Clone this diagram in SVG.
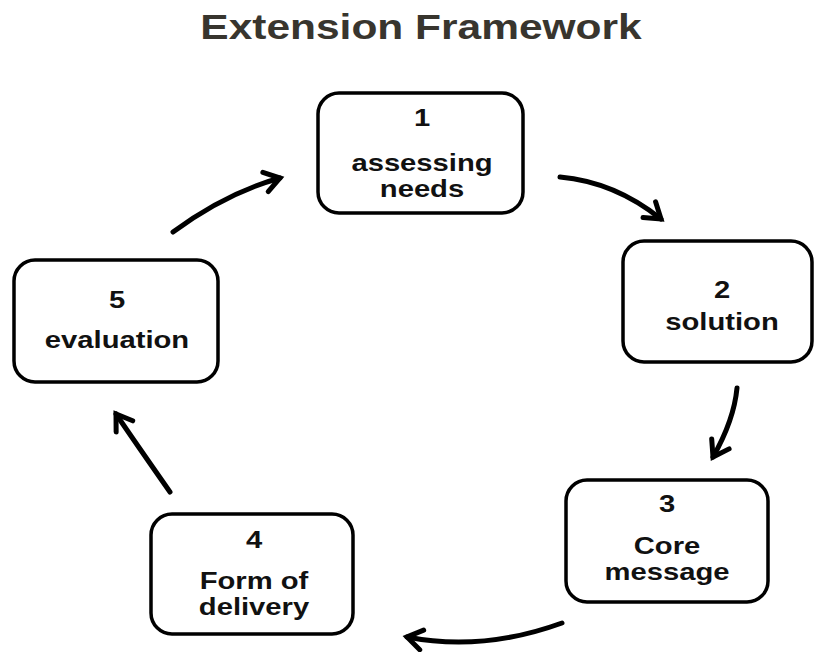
<svg xmlns="http://www.w3.org/2000/svg" width="815" height="652" viewBox="0 0 815 652">
  <defs>
    <style>
      .box { fill: #ffffff; stroke: #000000; stroke-width: 3.5; }
      .lbl { font-family: "Liberation Sans", Arial, sans-serif; font-weight: bold; font-size: 23px; fill: #111111; text-anchor: middle; }
      .title { font-family: "Liberation Sans", Arial, sans-serif; font-weight: bold; font-size: 36px; fill: #38352e; text-anchor: middle; }
      .link { fill: none; stroke: #000000; stroke-width: 5; stroke-linecap: round; }
    </style>
    <marker id="chev" markerUnits="userSpaceOnUse" markerWidth="40" markerHeight="40" viewBox="-20 -20 40 40" refX="0" refY="0" orient="auto">
      <path d="M-15,-10 L0,0 L-15,10" fill="none" stroke="#000000" stroke-width="5" stroke-linecap="round" stroke-linejoin="miter"/>
    </marker>
  </defs>

  <rect width="815" height="652" fill="#ffffff"/>

  <g transform="translate(421,39) scale(1.18,1)">
    <text class="title" x="0" y="0">Extension Framework</text>
  </g>

  <g id="connectors">
    <path class="link" d="M560,177 Q615,182 661,219" marker-end="url(#chev)"/>
    <path class="link" d="M737,388 Q734,420 713,457" marker-end="url(#chev)"/>
    <path class="link" d="M562,623 Q482,652 407,637" marker-end="url(#chev)"/>
    <path class="link" d="M170,492 Q135,442 116,414" marker-end="url(#chev)"/>
    <path class="link" d="M173,232 Q226,193 280,178" marker-end="url(#chev)"/>
  </g>

  <g id="node1">
    <rect class="box" x="318" y="93" width="205" height="120" rx="21"/>
    <g transform="translate(422,0) scale(1.27,1)">
      <text class="lbl" x="0" y="126">1</text>
      <text class="lbl" x="0" y="171">assessing</text>
      <text class="lbl" x="0" y="197">needs</text>
    </g>
  </g>

  <g id="node2">
    <rect class="box" x="623" y="241" width="189" height="121" rx="21"/>
    <g transform="translate(722,0) scale(1.27,1)">
      <text class="lbl" x="0" y="298">2</text>
      <text class="lbl" x="0" y="330">solution</text>
    </g>
  </g>

  <g id="node3">
    <rect class="box" x="566" y="480" width="202" height="122" rx="21"/>
    <g transform="translate(667,0) scale(1.27,1)">
      <text class="lbl" x="0" y="512">3</text>
      <text class="lbl" x="0" y="554">Core</text>
      <text class="lbl" x="0" y="580">message</text>
    </g>
  </g>

  <g id="node4">
    <rect class="box" x="151" y="514" width="202" height="120" rx="21"/>
    <g transform="translate(254,0) scale(1.27,1)">
      <text class="lbl" x="0" y="548">4</text>
      <text class="lbl" x="0" y="589">Form of</text>
      <text class="lbl" x="0" y="615">delivery</text>
    </g>
  </g>

  <g id="node5">
    <rect class="box" x="14" y="260" width="204" height="122" rx="21"/>
    <g transform="translate(117,0) scale(1.27,1)">
      <text class="lbl" x="0" y="308">5</text>
      <text class="lbl" x="0" y="348">evaluation</text>
    </g>
  </g>
</svg>
